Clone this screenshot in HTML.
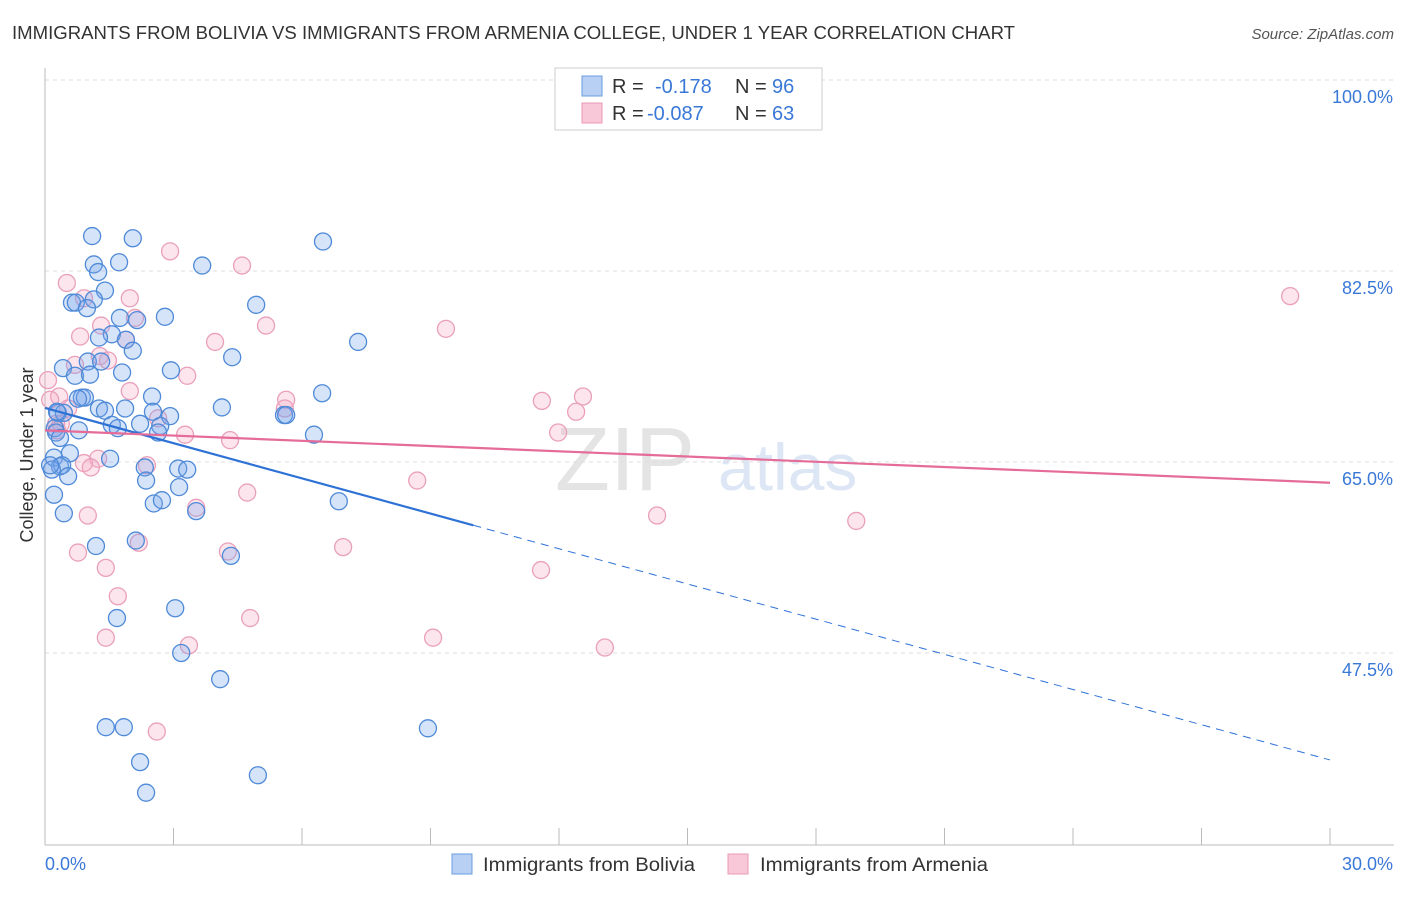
<!DOCTYPE html>
<html><head><meta charset="utf-8"><style>
body{margin:0;background:#fff;font-family:"Liberation Sans",sans-serif}
svg text{font-family:"Liberation Sans",sans-serif}
</style></head><body>
<svg id="chart" width="1406" height="892" xmlns="http://www.w3.org/2000/svg">
<text x="12" y="39" font-size="18" fill="#333" textLength="1003" lengthAdjust="spacingAndGlyphs">IMMIGRANTS FROM BOLIVIA VS IMMIGRANTS FROM ARMENIA COLLEGE, UNDER 1 YEAR CORRELATION CHART</text>
<text x="1394" y="39" font-size="15" fill="#555" font-style="italic" text-anchor="end">Source: ZipAtlas.com</text>
<text x="555" y="490" font-size="90" fill="#e4e4e4" font-family="Liberation Serif">ZIP</text>
<text x="718" y="490" font-size="66" fill="#dce6f4">atlas</text>
<text transform="translate(33,455) rotate(-90)" font-size="18" fill="#333" text-anchor="middle">College, Under 1 year</text>
<g id="grid"></g><g id="axes"></g><g id="marks"></g><g id="trends"></g>
<g>
<rect x="555" y="68" width="267" height="62" fill="#fff" stroke="#ccc"/>
<rect x="582" y="76" width="20" height="20" fill="#b8d0f4" stroke="#6a9ee0"/>
<text x="612" y="93" font-size="20" fill="#333">R = </text><text x="655" y="93" font-size="20" fill="#3a78d8">-0.178</text>
<text x="735" y="93" font-size="20" fill="#333">N = </text><text x="772" y="93" font-size="20" fill="#3a78d8">96</text>
<rect x="582" y="103" width="20" height="20" fill="#f8c8d8" stroke="#e898b4"/>
<text x="612" y="120" font-size="20" fill="#333">R = </text><text x="647" y="120" font-size="20" fill="#3a78d8">-0.087</text>
<text x="735" y="120" font-size="20" fill="#333">N = </text><text x="772" y="120" font-size="20" fill="#3a78d8">63</text>
</g>
<g>
<rect x="452" y="854" width="20" height="20" fill="#b8d0f4" stroke="#6a9ee0"/>
<text x="483" y="871" font-size="19" fill="#333" textLength="212" lengthAdjust="spacingAndGlyphs">Immigrants from Bolivia</text>
<rect x="728" y="854" width="20" height="20" fill="#f8c8d8" stroke="#e898b4"/>
<text x="760" y="871" font-size="19" fill="#333" textLength="228" lengthAdjust="spacingAndGlyphs">Immigrants from Armenia</text>
</g>
</svg>
<script>
const yTicks=[100,82.5,65,47.5];
const yTickLabels=["100.0%","82.5%","65.0%","47.5%"];
const xTickValues=[0,3,6,9,12,15,18,21,24,27,30];
const xEndLabels=["0.0%","30.0%"];
const boliviaX=[1.10,2.05,6.49,1.73,3.67,1.14,1.24,1.40,0.63,0.72,1.14,0.98,4.93,2.80,2.15,1.75,1.56,1.26,1.89,7.31,2.05,4.37,1.00,1.31,0.42,2.94,0.70,1.05,1.80,2.50,6.47,0.86,0.93,0.77,4.13,1.26,1.87,1.40,2.52,2.92,0.30,5.58,5.63,1.56,1.70,2.22,2.69,0.44,0.79,0.23,0.26,6.28,2.64,0.35,0.58,1.52,0.21,0.35,0.40,0.16,2.33,3.11,3.32,2.36,0.54,3.13,2.54,2.73,6.86,0.21,3.53,0.44,1.19,2.12,4.34,3.04,1.68,3.18,4.09,1.42,1.84,8.94,2.22,4.97,2.36,0.28,0.12];
const boliviaY=[85.7,85.5,85.2,83.3,83.0,83.1,82.4,80.7,79.6,79.6,79.9,79.1,79.4,78.3,78.0,78.2,76.7,76.4,76.2,76.0,75.2,74.6,74.2,74.2,73.6,73.4,72.9,73.0,73.2,71.0,71.3,70.9,70.9,70.8,70.0,69.9,69.9,69.7,69.6,69.2,69.5,69.3,69.3,68.4,68.1,68.5,68.3,69.5,67.9,68.1,67.7,67.5,67.7,67.2,65.8,65.3,65.4,64.6,64.7,64.3,64.5,64.4,64.3,63.3,63.7,62.7,61.2,61.5,61.4,62.0,60.5,60.3,57.3,57.8,56.4,51.6,50.7,47.5,45.1,40.7,40.7,40.6,37.5,36.3,34.7,69.6,64.7];
const armeniaX=[2.92,4.60,0.51,1.98,0.91,5.16,9.36,1.31,2.10,0.82,3.97,1.89,1.28,0.70,1.47,0.07,3.32,1.98,0.33,5.63,5.60,11.60,12.56,12.40,0.54,2.64,0.37,0.26,4.32,11.98,3.27,1.24,0.91,1.07,2.38,4.72,8.69,3.53,1.00,14.29,18.94,0.77,2.19,4.27,6.96,1.42,11.58,1.70,4.79,1.42,9.06,3.36,13.07,2.61,29.07,0.28,0.12];
const armeniaY=[84.3,83.0,81.4,80.0,80.0,77.5,77.2,77.5,78.2,76.5,76.0,76.2,74.7,73.9,74.3,72.5,72.9,71.5,71.0,70.7,69.9,70.6,71.0,69.6,69.9,69.0,68.5,68.5,67.0,67.7,67.5,65.3,64.9,64.5,64.7,62.2,63.3,60.8,60.1,60.1,59.6,56.7,57.6,56.8,57.2,55.3,55.1,52.7,50.7,48.9,48.9,48.2,48.0,40.3,80.2,67.9,70.7];
const boliviaTrend=[69.95,37.7];
const boliviaSolidEnd=10.0;
const armeniaTrend=[67.9,63.1];

const NS="http://www.w3.org/2000/svg";
const X0=45,X1=1330,Y100=80,PX=10.914;
function sx(v){return X0+(v/30)*(X1-X0);}
function sy(v){return Y100+(100-v)*PX;}
function mk(tag,attrs,parent){const e=document.createElementNS(NS,tag);for(const k in attrs)e.setAttribute(k,attrs[k]);parent.appendChild(e);return e;}
const grid=document.getElementById('grid'),axes=document.getElementById('axes'),marks=document.getElementById('marks'),trends=document.getElementById('trends');
yTicks.forEach((t,i)=>{
 const l=mk('line',{x1:X0,x2:1394,y1:sy(t),y2:sy(t),stroke:'#ddd','stroke-dasharray':'4,4'},grid);
 
 
 const tx=mk('text',{x:1393,y:sy(t)+23,'font-size':18,fill:'#3a78d8','text-anchor':'end'},axes);
 tx.textContent=yTickLabels[i];
 
 
});
const ax=mk('line',{x1:X0,x2:1394,y1:845,y2:845,stroke:'#bbb'},axes);


const ay=mk('line',{x1:X0,x2:X0,y1:68,y2:845,stroke:'#bbb'},axes);


xTickValues.forEach(t=>{
 const l=mk('line',{x1:sx(t),x2:sx(t),y1:828,y2:845,stroke:'#bbb'},axes);
 
 
});
const xl0=mk('text',{x:45,y:870,'font-size':18,fill:'#3a78d8'},axes);xl0.textContent=xEndLabels[0];


const xl1=mk('text',{x:1393,y:870,'font-size':18,fill:'#3a78d8','text-anchor':'end'},axes);xl1.textContent=xEndLabels[1];


function pts(xs,ys,fill,stroke,name){xs.forEach((x,i)=>{
 const c=mk('circle',{cx:sx(x),cy:sy(ys[i]),r:8.5,fill:fill,stroke:stroke,'stroke-width':1.3},marks);
 
 
});}
pts(armeniaX,armeniaY,'rgba(246,170,196,0.3)','#eaa0bb','point-armenia');
pts(boliviaX,boliviaY,'rgba(120,165,235,0.3)','#4f8ad8','point-bolivia');
function ty(tr,x){return tr[0]+(tr[1]-tr[0])*x/30;}
const b1=mk('line',{x1:sx(0),y1:sy(ty(boliviaTrend,0)),x2:sx(boliviaSolidEnd),y2:sy(ty(boliviaTrend,boliviaSolidEnd)),stroke:'#2f72d6','stroke-width':2.2},trends);


const b2=mk('line',{x1:sx(boliviaSolidEnd),y1:sy(ty(boliviaTrend,boliviaSolidEnd)),x2:sx(30),y2:sy(ty(boliviaTrend,30)),stroke:'#2f72d6','stroke-width':1,'stroke-dasharray':'8,6'},trends);


const p1=mk('line',{x1:sx(0),y1:sy(ty(armeniaTrend,0)),x2:sx(30),y2:sy(ty(armeniaTrend,30)),stroke:'#e56b98','stroke-width':2.2},trends);


</script>
</body></html>
